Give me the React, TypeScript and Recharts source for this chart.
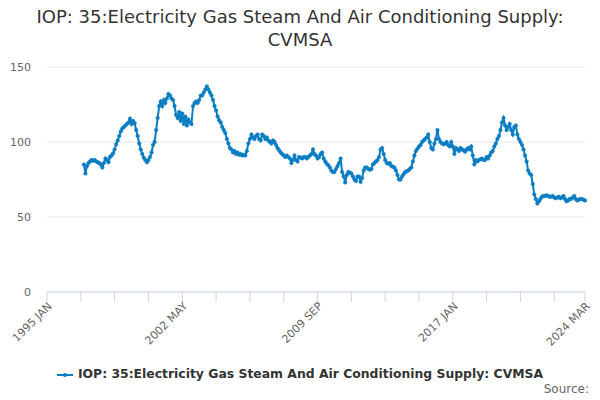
import { CartesianGrid, Line, LineChart, XAxis, YAxis } from 'recharts'

// monthly values, index 0 = 1995 JAN; series starts 1997 JAN
const START_YEAR = 1997
const y1997 = [85, 79, 84, 86, 87, 88, 87.5, 88, 87, 86.5, 86, 85]
const y1998 = [83, 86, 89, 88, 86.5, 90, 91, 92.5, 95, 98.5, 101, 104]
const y1999 = [107, 109, 110, 111, 112, 113, 115.5, 112, 114, 112.5, 108, 104]
const y2000 = [99, 95, 92, 89.5, 88, 86.5, 88, 90, 93, 98, 100, 108]
const y2001 = [116, 124, 127, 124, 128, 126, 129, 132, 131, 129, 128, 124]
const y2002 = [118, 116, 120, 114, 119, 112, 117, 111, 115, 113, 112, 124]
const y2003 = [126, 127, 126, 128, 131, 131, 133, 135, 137, 135, 133, 131]
const y2004 = [128, 124, 121, 117, 114.5, 113, 110, 108, 106, 102, 99, 96]
const y2005 = [95, 93, 94, 92, 93, 91.5, 92, 91, 91.5, 91, 94, 99]
const y2006 = [102, 105, 103, 102, 104, 105, 102, 101, 105, 104, 102, 103]
const y2007 = [101, 100, 99, 101, 100, 98, 96, 94.5, 93, 92, 91, 90]
const y2008 = [91, 90, 89, 86, 88, 91, 88, 87, 90, 89.5, 89, 90]
const y2009 = [90, 89, 90, 91, 92, 95, 92, 91, 89, 90, 92, 93]
const y2010 = [89, 87, 85.5, 84.5, 83, 81, 80, 80, 82, 84, 86, 89]
const y2011 = [80, 77, 73, 78, 80, 79.5, 79, 77, 75, 74, 77, 77]
const y2012 = [73.5, 76, 81, 83, 83, 82, 81.5, 82, 85, 86, 87, 88]
const y2013 = [90, 95, 96, 92, 88, 86, 85.5, 86, 84, 83.5, 83, 81]
const y2014 = [78, 75, 75, 77, 78.5, 80, 80.5, 81, 82, 83, 87, 91]
const y2015 = [94, 95.5, 97, 98, 100, 101, 102, 103, 105, 100, 96, 95]
const y2016 = [99, 102, 108, 102, 100, 99, 98.5, 99, 100, 98, 97, 100]
const y2017 = [97, 92, 96, 95, 94, 96, 95, 94.5, 93.5, 95, 96, 95]
const y2018 = [97, 91, 85, 88, 87, 88, 88.5, 89, 88, 88, 90, 89]
const y2019 = [91, 93, 94, 97, 99, 102, 104, 108, 113, 116, 111, 108]
const y2020 = [110, 112, 108, 105, 110, 111, 105, 102, 100, 98, 95, 91]
const y2021 = [87, 81, 79, 78, 72, 65, 62, 59, 60.5, 62, 63.5, 64]
const y2022 = [64, 64.5, 64, 63.5, 63.5, 64, 63, 62.5, 63, 63.5, 62.5, 63]
const y2023 = [64, 62, 60.5, 61, 62, 62, 63, 64, 62, 61, 61.5, 62]
const y2024 = [62, 61.5, 61]

const years = [
  y1997, y1998, y1999, y2000, y2001, y2002, y2003, y2004, y2005, y2006,
  y2007, y2008, y2009, y2010, y2011, y2012, y2013, y2014, y2015, y2016,
  y2017, y2018, y2019, y2020, y2021, y2022, y2023, y2024,
]

const tickMonths = [0, 22, 44, 66, 88, 110, 132, 154, 176, 198, 220, 242, 264, 286, 308, 330, 350]
const labelMonths = [0, 88, 176, 264, 350]
const tickLabels = ['1995 JAN', '2002 MAY', '2009 SEP', '2017 JAN', '2024 MAR']
const yTicks = [0, 50, 100, 150]

const SERIES = 'IOP: 35:Electricity Gas Steam And Air Conditioning Supply: CVMSA'
const BLUE = '#0b7dc3'
const FONT = '"DejaVu Sans", sans-serif'

const data = years.flatMap((vals, yi) =>
  vals.map((v, mi) => ({ m: (START_YEAR - 1995 + yi) * 12 + mi, v })),
)

function DateTick(props: any) {
  const { x, y, payload } = props
  const i = labelMonths.indexOf(payload.value)
  if (i < 0) return null
  return (
    <g transform={`translate(${x},${y})`}>
      <text
        transform="rotate(-45)"
        textAnchor="end"
        x={0}
        y={0}
        dx={2}
        dy={6}
        fill="#666"
        fontSize={11}
        fontFamily={FONT}
      >
        {tickLabels[i]}
      </text>
    </g>
  )
}

export default function App() {
  return (
    <div style={{ position: 'absolute', left: 0, top: 0, width: 600, height: 400, fontFamily: FONT, background: '#fff' }}>
      <div style={{ position: 'absolute', top: 5, left: 0, width: 600, textAlign: 'center', fontSize: 18, lineHeight: '23px', color: '#333' }}>
        IOP: 35:Electricity Gas Steam And Air Conditioning Supply:
        <br />
        CVMSA
      </div>
      <LineChart width={600} height={400} data={data} margin={{ top: 67, right: 15, bottom: 48, left: 0 }}>
        <CartesianGrid horizontal vertical={false} stroke="#e6e6e6" />
        <XAxis
          dataKey="m"
          type="number"
          domain={[0, 350]}
          ticks={tickMonths}
          interval={0}
          height={60}
          stroke="#ccd6eb"
          tickSize={10}
          tickMargin={2}
          tick={<DateTick />}
        />
        <YAxis
          domain={[0, 150]}
          ticks={yTicks}
          width={47}
          axisLine={false}
          tickLine={false}
          tickSize={0}
          tickMargin={16}
          tick={{ fill: '#666', fontSize: 11, fontFamily: FONT }}
        />
        <Line
          dataKey="v"
          stroke={BLUE}
          strokeWidth={2}
          dot={{ r: 1.8, fill: BLUE, stroke: BLUE, strokeWidth: 0.5 }}
          isAnimationActive={false}
        />
      </LineChart>
      <div style={{ position: 'absolute', top: 366, left: 0, width: 600, textAlign: 'center', fontSize: 12.4, fontWeight: 'bold', color: '#333', whiteSpace: 'nowrap' }}>
        <svg width={16} height={10} style={{ marginRight: 5, verticalAlign: 'middle' }}>
          <line x1={0} y1={5} x2={16} y2={5} stroke={BLUE} strokeWidth={2} />
          <circle cx={8} cy={5} r={2} fill={BLUE} />
        </svg>
        {SERIES}
      </div>
      <div style={{ position: 'absolute', top: 382, right: 11, fontSize: 12, color: '#666' }}>Source:</div>
    </div>
  )
}
